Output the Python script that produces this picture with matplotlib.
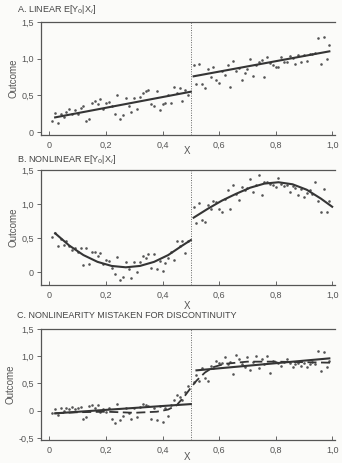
import matplotlib
matplotlib.use("Agg")
import matplotlib.pyplot as plt
from matplotlib.ticker import FuncFormatter

plt.rcParams['font.family'] = ['Liberation Sans', 'DejaVu Sans']

# ---------------- data ----------------
x_left = [0.01, 0.02, 0.03, 0.04, 0.05, 0.06, 0.07, 0.08, 0.09, 0.10,
          0.11, 0.12, 0.13, 0.14, 0.15, 0.16, 0.17, 0.18, 0.19, 0.20,
          0.21, 0.22, 0.23, 0.24, 0.25, 0.26, 0.27, 0.28, 0.29, 0.30,
          0.31, 0.32, 0.33, 0.34, 0.35, 0.36, 0.37, 0.38, 0.39, 0.40,
          0.41, 0.42, 0.43, 0.44, 0.45, 0.46, 0.47, 0.48, 0.49]
x_right = [0.51, 0.52, 0.53, 0.54, 0.55, 0.56, 0.57, 0.58, 0.59, 0.60,
           0.61, 0.62, 0.63, 0.64, 0.65, 0.66, 0.67, 0.68, 0.69, 0.70,
           0.71, 0.72, 0.73, 0.74, 0.75, 0.76, 0.77, 0.78, 0.79, 0.80,
           0.81, 0.82, 0.83, 0.84, 0.85, 0.86, 0.87, 0.88, 0.89, 0.90,
           0.91, 0.92, 0.93, 0.94, 0.95, 0.96, 0.97, 0.98, 0.99]

# Panel A
a_left_y = [0.15, 0.26, 0.12, 0.24, 0.20, 0.28, 0.31, 0.25, 0.30, 0.24,
            0.33, 0.36, 0.15, 0.18, 0.40, 0.43, 0.38, 0.45, 0.32, 0.40,
            0.41, 0.35, 0.24, 0.51, 0.18, 0.23, 0.47, 0.36, 0.28, 0.47,
            0.32, 0.48, 0.53, 0.56, 0.58, 0.38, 0.36, 0.56, 0.30, 0.38,
            0.40, 0.50, 0.40, 0.62, 0.53, 0.60, 0.42, 0.57, 0.50]
a_right_y = [0.92, 0.66, 0.93, 0.66, 0.60, 0.86, 0.75, 0.89, 0.71, 0.67,
             0.83, 0.78, 0.92, 0.62, 0.97, 0.83, 0.87, 0.71, 0.81, 0.86,
             1.00, 0.76, 0.91, 0.95, 0.98, 0.75, 1.02, 0.94, 0.92, 0.89,
             0.88, 1.02, 0.95, 0.95, 1.03, 1.01, 0.93, 1.05, 0.95, 1.05,
             0.97, 1.07, 1.06, 1.08, 1.28, 0.93, 1.29, 1.00, 1.18]
a_fit_left_x = [0.02, 0.50]
a_fit_left_y = [0.20, 0.55]
a_fit_right_x = [0.51, 0.99]
a_fit_right_y = [0.76, 1.10]

# Panel B
b_left_y = [0.52, 0.58, 0.38, 0.48, 0.40, 0.45, 0.38, 0.33, 0.36, 0.30,
            0.35, 0.10, 0.35, 0.12, 0.29, 0.29, 0.24, 0.28, 0.12, 0.18,
            0.17, 0.06, -0.03, 0.22, -0.12, -0.07, 0.15, 0.05, -0.09, 0.15,
            0.00, 0.15, 0.23, 0.20, 0.26, 0.06, 0.27, 0.04, 0.17, 0.02,
            0.13, 0.20, 0.29, 0.18, 0.45, 0.38, 0.45, 0.28, 0.45]
b_right_y = [0.96, 0.72, 1.02, 0.76, 0.73, 0.98, 0.92, 1.05, 1.03, 0.92,
             0.89, 1.08, 1.20, 0.93, 1.28, 1.15, 1.06, 1.25, 1.20, 1.23,
             1.37, 1.18, 1.28, 1.42, 1.13, 1.32, 1.33, 1.30, 1.28, 1.25,
             1.38, 1.30, 1.27, 1.28, 1.17, 1.26, 1.24, 1.13, 1.22, 1.10,
             1.16, 1.20, 1.15, 1.32, 1.05, 0.88, 1.22, 0.88, 1.05]
b_fit_left_x = [0.02, 0.07, 0.12, 0.17, 0.22, 0.27, 0.32, 0.37, 0.42, 0.47, 0.50]
b_fit_left_y = [0.57, 0.39, 0.25, 0.15, 0.09, 0.07, 0.09, 0.15, 0.25, 0.39, 0.47]
b_fit_right_x = [0.51, 0.56, 0.61, 0.66, 0.71, 0.76, 0.81, 0.86, 0.91, 0.96, 1.00]
b_fit_right_y = [0.80, 0.93, 1.05, 1.15, 1.24, 1.30, 1.32, 1.29, 1.21, 1.08, 0.96]

# Panel C
c_left_y = [-0.05, 0.03, -0.08, 0.04, 0.00, 0.05, 0.03, 0.06, 0.03, 0.05,
            0.07, -0.15, -0.12, 0.08, 0.10, 0.05, 0.10, -0.02, 0.03, -0.02,
            0.05, -0.15, -0.22, 0.12, -0.18, -0.10, 0.05, -0.05, -0.15, 0.05,
            -0.12, 0.07, 0.12, 0.10, 0.08, -0.15, 0.05, -0.18, 0.08, -0.20,
            0.05, -0.10, 0.10, 0.20, 0.28, 0.25, 0.20, 0.35, 0.45]
c_right_y = [0.52, 0.65, 0.55, 0.78, 0.60, 0.55, 0.82, 0.78, 0.92, 0.88,
             0.87, 0.98, 0.85, 0.90, 0.68, 1.02, 0.95, 0.85, 0.80, 0.98,
             0.75, 0.90, 1.00, 0.78, 0.95, 0.85, 1.00, 0.70, 0.92, 0.90,
             0.88, 0.82, 0.90, 0.95, 0.87, 0.80, 0.85, 0.88, 0.82, 0.88,
             0.80, 0.85, 0.90, 0.85, 1.10, 0.72, 1.08, 0.80, 0.92]
c_fit_left_x = [0.02, 0.50]
c_fit_left_y = [-0.05, 0.12]
c_fit_right_x = [0.52, 0.99]
c_fit_right_y = [0.74, 0.96]
c_smooth_x = [0.02, 0.10, 0.20, 0.30, 0.38, 0.42, 0.45, 0.48, 0.50, 0.52,
              0.55, 0.58, 0.62, 0.70, 0.80, 0.90, 1.00]
c_smooth_y = [-0.05, -0.03, -0.02, -0.04, -0.02, 0.02, 0.10, 0.28, 0.42, 0.55,
              0.70, 0.80, 0.86, 0.90, 0.90, 0.89, 0.88]

titles = ["A. LINEAR E[Y$_0$|X$_i$]",
          "B. NONLINEAR E[Y$_0$|X$_i$]",
          "C. NONLINEARITY MISTAKEN FOR DISCONTINUITY"]
x_ticks = [0, 0.2, 0.4, 0.6, 0.8, 1.0]
y_ticks_ab = [0, 0.5, 1.0, 1.5]
y_ticks_c = [-0.5, 0, 0.5, 1.0, 1.5]
cutoff = 0.5

# ---------------- figure ----------------
W, H = 342, 463
fig = plt.figure(figsize=(W / 100, H / 100), dpi=100)
fig.patch.set_facecolor('#fbfbf9')

ink = '#353535'
pt = '#555555'
txt = '#555555'


def fmt(v, pos):
    if abs(v) < 1e-9:
        return '0'
    return ('%.1f' % v).replace('.', ',')


def box(top, bottom, left=41, right=335):
    return [left / W, 1 - bottom / H, (right - left) / W, (bottom - top) / H]


panels = [
    dict(rect=box(22, 135), ylim=(-0.04, 1.5), yt=y_ticks_ab,
         L=a_left_y, R=a_right_y,
         fits=[(a_fit_left_x, a_fit_left_y), (a_fit_right_x, a_fit_right_y)],
         title_y=10, xlab_y=151),
    dict(rect=box(170, 285), ylim=(-0.19, 1.5), yt=y_ticks_ab,
         L=b_left_y, R=b_right_y,
         fits=[(b_fit_left_x, b_fit_left_y), (b_fit_right_x, b_fit_right_y)],
         title_y=159, xlab_y=306),
    dict(rect=box(329, 440), ylim=(-0.54, 1.5), yt=y_ticks_c,
         L=c_left_y, R=c_right_y,
         fits=[(c_fit_left_x, c_fit_left_y), (c_fit_right_x, c_fit_right_y)],
         title_y=315, xlab_y=457),
]

for i, p in enumerate(panels):
    ax = fig.add_axes(p['rect'])
    ax.set_facecolor('none')
    ax.scatter(x_left, p['L'], s=3.5, color=pt, linewidths=0, zorder=3)
    ax.scatter(x_right, p['R'], s=3.5, color=pt, linewidths=0, zorder=3)
    for fx, fy in p['fits']:
        ax.plot(fx, fy, color=ink, lw=1.5, zorder=4)
    if i == 2:
        ax.plot(c_smooth_x, c_smooth_y, color=ink, lw=1.3, ls=(0, (5, 2.5)), zorder=4)
    ax.axvline(cutoff, color='#666666', lw=0.7, ls=(0, (1, 1.5)), zorder=2)
    ax.set_xlim(-0.03, 1.01)
    ax.set_ylim(*p['ylim'])
    ax.set_xticks(x_ticks)
    ax.set_yticks(p['yt'])
    ax.xaxis.set_major_formatter(FuncFormatter(fmt))
    ax.yaxis.set_major_formatter(FuncFormatter(fmt))
    ax.tick_params(axis='both', labelsize=6.5, colors='#666666', labelcolor=txt,
                   length=3, width=0.7, pad=2)
    ax.tick_params(axis='x', direction='in', pad=4)
    for s in ['left', 'top', 'bottom']:
        ax.spines[s].set_color('#555555')
        ax.spines[s].set_linewidth(0.9)
    ax.spines['right'].set_visible(False)
    ax.set_ylabel('Outcome', fontsize=7, color=txt, labelpad=2)
    fig.text(187 / W, 1 - p['xlab_y'] / H, 'X', fontsize=7, color=txt,
             ha='center', va='center')
    fig.text(17 / W, 1 - p['title_y'] / H, titles[i], fontsize=6.5, color='#444444',
             ha='left', va='center')

fig.savefig('out.png', dpi=100, facecolor=fig.get_facecolor())
